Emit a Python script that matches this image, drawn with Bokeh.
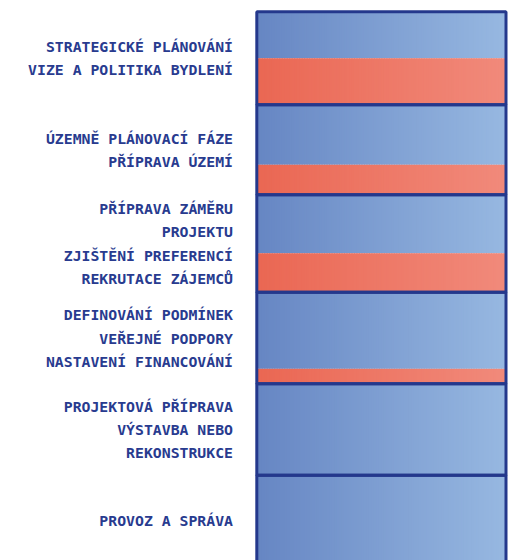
import numpy as np
from bokeh.plotting import figure
from bokeh.models import ColumnDataSource, Range1d
from bokeh.core.properties import value
from bokeh.embed import file_html
from bokeh.resources import INLINE

# ---- data ----
phases = [
    "STRATEGICKÉ PLÁNOVÁNÍ\nVIZE A POLITIKA BYDLENÍ",
    "ÚZEMNĚ PLÁNOVACÍ FÁZE\nPŘÍPRAVA ÚZEMÍ",
    "PŘÍPRAVA ZÁMĚRU\nPROJEKTU\nZJIŠTĚNÍ PREFERENCÍ\nREKRUTACE ZÁJEMCŮ",
    "DEFINOVÁNÍ PODMÍNEK\nVEŘEJNÉ PODPORY\nNASTAVENÍ FINANCOVÁNÍ",
    "PROJEKTOVÁ PŘÍPRAVA\nVÝSTAVBA NEBO\nREKONSTRUKCE",
    "PROVOZ A SPRÁVA",
]
blue_vals = [3.1, 4.0, 3.9, 5.1, 6.1, 6.0]
red_vals = [3.1, 2.0, 2.6, 1.0, 0.0, 0.0]

# ---- styling ----
BLUE_L, BLUE_R = (102, 134, 195), (151, 184, 225)
RED_L, RED_R = (234, 103, 83), (241, 138, 123)
NAVY = "#24388c"
TEXT = "#283b8f"
N = 100
OVERLAP = 0.004

blue = np.array(blue_vals)
red = np.array(red_vals)
totals = blue + red
tops = np.concatenate([[0], np.cumsum(totals)[:-1]])
bottoms = tops + totals
mids = blue + tops

def hexc(c):
    return "#%02x%02x%02x" % tuple(int(round(v)) for v in c)

edges = np.linspace(0, 1, N + 1)
L, R, T, B, C = [], [], [], [], []
for i in range(len(phases)):
    for j in range(N):
        t = (j + 0.5) / N
        right = min(edges[j + 1] + OVERLAP, 1.0)
        if blue[i] > 0:
            L.append(edges[j]); R.append(right)
            T.append(tops[i]); B.append(mids[i])
            C.append(hexc([a + (b - a) * t for a, b in zip(BLUE_L, BLUE_R)]))
        if red[i] > 0:
            L.append(edges[j]); R.append(right)
            T.append(mids[i]); B.append(bottoms[i])
            C.append(hexc([a + (b - a) * t for a, b in zip(RED_L, RED_R)]))
stripes = ColumnDataSource(dict(left=L, right=R, top=T, bottom=B, color=C))

frame = ColumnDataSource(dict(left=[0] * len(phases), right=[1] * len(phases),
                              top=list(tops), bottom=list(bottoms)))
labels = ColumnDataSource(dict(x=[-0.0955] * len(phases),
                               y=list((tops + bottoms) / 2), text=phases))

W, H = 517, 560
px_per_x = 249.2
x0 = 256.3
px_per_y = 15.0
y0 = 11.3

p = figure(width=W, height=H, output_backend="svg", toolbar_location=None,
           x_range=Range1d(-x0 / px_per_x, (W - x0) / px_per_x),
           y_range=Range1d((H - y0) / px_per_y, -y0 / px_per_y),
           min_border=0, outline_line_color=None)
p.axis.visible = False
p.grid.visible = False

p.quad(left="left", right="right", top="top", bottom="bottom", source=stripes,
       fill_color="color", line_color=None)
p.quad(left="left", right="right", top="top", bottom="bottom", source=frame,
       fill_color=None, line_color=NAVY, line_width=3)
p.text(x="x", y="y", text="text", source=labels, text_align="right",
       text_baseline="middle", text_font=value("DejaVu Sans Mono"),
       text_font_style="bold", text_font_size="14.8px", text_color=TEXT,
       text_line_height=1.36)

open("out.html", "w").write(file_html(p, INLINE))
